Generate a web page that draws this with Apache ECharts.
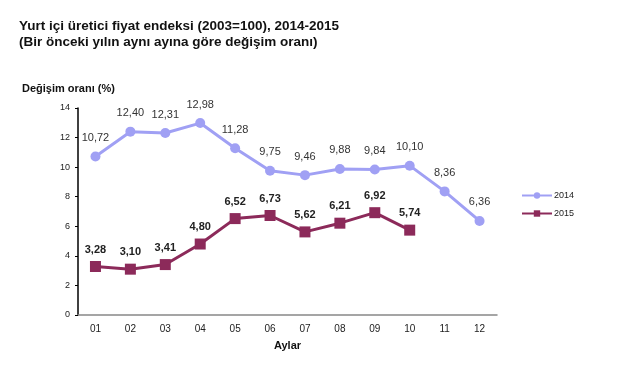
<!DOCTYPE html>
<html><head><meta charset="utf-8">
<script src="https://cdn.jsdelivr.net/npm/echarts@6/dist/echarts.min.js"></script>
<style>html,body{margin:0;padding:0;background:#fff}#c{width:626px;height:385px}</style>
</head><body><div id="c"></div>
<script>
var months = ['01','02','03','04','05','06','07','08','09','10','11','12'];
var values2014 = [10.72,12.40,12.31,12.98,11.28,9.75,9.46,9.88,9.84,10.10,8.36,6.36];
var values2015 = [3.28,3.10,3.41,4.80,6.52,6.73,5.62,6.21,6.92,5.74];
var yTicks = [0,2,4,6,8,10,12,14];

var chart = echarts.init(document.getElementById('c'));
function fmt(p){ return p.value.toFixed(2).replace('.', ','); }
chart.setOption({
  animation:false,
  textStyle:{fontFamily:'Liberation Sans, Arial, sans-serif'},
  title:{
    text:'Yurt içi üretici fiyat endeksi (2003=100), 2014-2015\n(Bir önceki yılın aynı ayına göre değişim oranı)',
    left:14, top:13,
    textStyle:{fontSize:13.5, fontWeight:'bold', color:'#111', lineHeight:16, fontFamily:'Liberation Sans, Arial, sans-serif'}
  },
  graphic:[{type:'text', left:22, top:83, style:{text:'Değişim oranı (%)', font:'bold 11px Liberation Sans, Arial, sans-serif', fill:'#111'}}],
  legend:{
    orient:'vertical', left:516, top:186, itemGap:9, itemWidth:30, itemHeight:8,
    textStyle:{fontSize:9, color:'#222', padding:[0,0,0,-3]},
    data:['2014','2015']
  },
  grid:{left:78, right:129, top:108, bottom:70},
  xAxis:{
    type:'category', data:months, boundaryGap:true,
    name:'Aylar', nameLocation:'middle', nameGap:25,
    nameTextStyle:{fontWeight:'bold', fontSize:11, color:'#111'},
    axisLine:{lineStyle:{color:'#888', width:1.5}},
    axisTick:{show:false},
    axisLabel:{fontSize:10, color:'#222', margin:9}
  },
  yAxis:{
    type:'value', min:0, max:14, interval:2,
    splitLine:{show:false},
    axisLine:{show:true, lineStyle:{color:'#000', width:1.5}},
    axisTick:{show:true, length:3, lineStyle:{color:'#000'}},
    axisLabel:{fontSize:9, color:'#222', margin:8, formatter:function(v){return yTicks.indexOf(v)>=0?String(v):'';}}
  },
  series:[
    {name:'2014', type:'line', data:values2014, symbol:'circle', symbolSize:10,
     lineStyle:{color:'#a0a0f4', width:3}, itemStyle:{color:'#a0a0f4'},
     label:{show:true, position:'top', distance:8, formatter:fmt, fontSize:11, color:'#333'}},
    {name:'2015', type:'line', data:values2015, symbol:'rect', symbolSize:11,
     lineStyle:{color:'#8c2a5a', width:3}, itemStyle:{color:'#8c2a5a'},
     label:{show:true, position:'top', distance:6, formatter:fmt, fontSize:11, fontWeight:'bold', color:'#222'}}
  ]
});
</script></body></html>
